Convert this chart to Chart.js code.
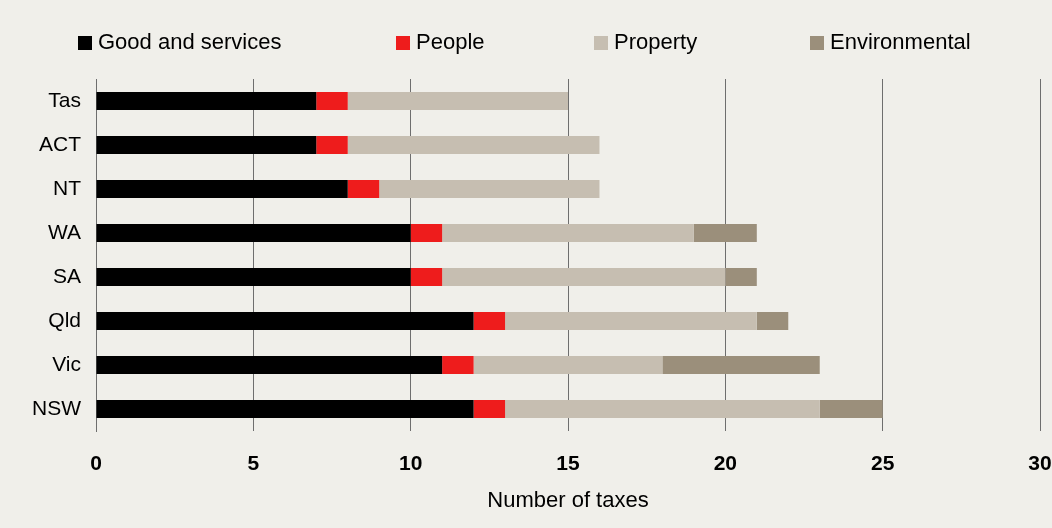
<!DOCTYPE html>
<html>
<head>
<meta charset="utf-8">
<script src="https://cdn.jsdelivr.net/npm/chart.js@4/dist/chart.umd.min.js"></script>
<style>
  html, body { margin: 0; padding: 0; background: #f0efea; }
  #wrap { position: relative; width: 1052px; height: 528px; }
  #legend { position: absolute; top: 0; left: 0; width: 1052px; height: 70px;
            font-family: 'Liberation Sans', Arial, sans-serif; font-size: 22px; color: #000; }
  .lg { position: absolute; top: 29px; display: flex; align-items: center; white-space: nowrap; }
  .lg i { display: inline-block; width: 14px; height: 14px; margin-right: 6px; margin-top: 2px; }
</style>
</head>
<body>
<div id="wrap">
  <canvas id="c" width="1052" height="528"></canvas>
  <div id="legend"></div>
</div>
<script>
/* Number of taxes by state/territory, stacked by tax base */
const STATES      = ['Tas', 'ACT', 'NT', 'WA', 'SA', 'Qld', 'Vic', 'NSW'];
const GOODS       = [7, 7, 8, 10, 10, 12, 11, 12];
const PEOPLE      = [1, 1, 1, 1, 1, 1, 1, 1];
const PROPERTY    = [7, 8, 7, 8, 9, 8, 6, 10];
const ENVIRONMENT = [0, 0, 0, 2, 1, 1, 5, 2];
const X_TICKS     = [0, 5, 10, 15, 20, 25, 30];

const SERIES = [
  { label: 'Good and services', data: GOODS,       color: '#000000', x: 78 },
  { label: 'People',            data: PEOPLE,      color: '#ee1c1c', x: 396 },
  { label: 'Property',          data: PROPERTY,    color: '#c6beb1', x: 594 },
  { label: 'Environmental',     data: ENVIRONMENT, color: '#9b8f7b', x: 810 },
];

const FONT = "'Liberation Sans', Arial, sans-serif";

document.getElementById('legend').innerHTML = SERIES.map(s =>
  `<div class="lg" style="left:${s.x}px"><i style="background:${s.color}"></i>${s.label}</div>`
).join('');

new Chart(document.getElementById('c'), {
  type: 'bar',
  data: {
    labels: STATES,
    datasets: SERIES.map(s => ({
      label: s.label, data: s.data, backgroundColor: s.color,
      borderWidth: 0, barPercentage: 0.41, categoryPercentage: 1,
    })),
  },
  options: {
    indexAxis: 'y',
    responsive: false,
    animation: false,
    layout: { padding: { top: 79, right: 12, left: 0, bottom: 0 } },
    plugins: { legend: { display: false }, tooltip: { enabled: false } },
    scales: {
      x: {
        stacked: true, min: 0, max: 30,
        afterBuildTicks: ax => { ax.ticks = X_TICKS.map(v => ({ value: v })); },
        afterFit: ax => { ax.height = 97; ax.paddingLeft = 0; ax.paddingRight = 0; },
        grid: { color: '#6e6e6e', lineWidth: 1, drawTicks: false },
        border: { display: false },
        ticks: { color: '#000', padding: 21, font: { family: FONT, size: 21, weight: 'bold' } },
        title: {
          display: true, text: 'Number of taxes', color: '#000',
          font: { family: FONT, size: 22 }, padding: { top: 4, bottom: 14 },
        },
      },
      y: {
        stacked: true,
        afterFit: ax => { ax.width = 96; },
        grid: { display: false },
        border: { display: true, color: '#6e6e6e', width: 1 },
        ticks: { color: '#000', padding: 7, font: { family: FONT, size: 21 } },
      },
    },
  },
});
</script>
</body>
</html>
